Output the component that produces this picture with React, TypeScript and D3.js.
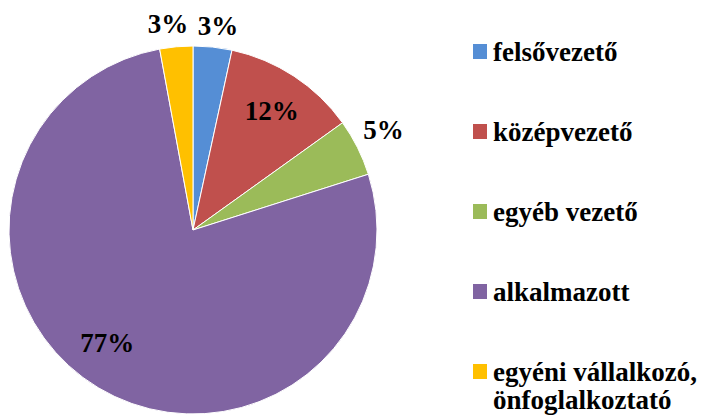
import React from "react";
import * as d3 from "d3";

const categories = ["felsővezető", "középvezető", "egyéb vezető", "alkalmazott", "egyéni vállalkozó, önfoglalkoztató"];
const values = [3.4, 11.7, 5.0, 77.0, 2.9];
const labels = ["3%", "12%", "5%", "77%", "3%"];
const colors = ["#558ED5", "#C0504D", "#9BBB59", "#8064A2", "#FFC000"];
const legendLines = [["felsővezető"], ["középvezető"], ["egyéb vezető"], ["alkalmazott"], ["egyéni vállalkozó,", "önfoglalkoztató"]];

const W = 707, H = 415;
const cx = 193, cy = 230, R = 184;
const labelRadius = [1.12, 0.78, 1.17, 0.77, 1.13];
const labelAngleShift = [0.015, 0, -0.02, 0.11, -0.03];
const font = "'Liberation Serif', 'Times New Roman', serif";

export default function App() {
  const pie = d3.pie<number>().sort(null).value((d) => d);
  const arcs = pie(values);
  const arc = d3.arc<d3.PieArcDatum<number>>().innerRadius(0).outerRadius(R);
  const legendY = d3.scalePoint<number>().domain(d3.range(categories.length)).range([51.5, 371.5]);

  return (
    <svg width={W} height={H} style={{ position: "absolute", left: 0, top: 0, background: "#fff" }}>
      <g transform={`translate(${cx},${cy})`}>
        {arcs.map((a, i) => (
          <path key={i} d={arc(a) || ""} fill={colors[i]} stroke="#fff" strokeWidth={1} />
        ))}
        {arcs.map((a, i) => {
          const mid = (a.startAngle + a.endAngle) / 2 + labelAngleShift[i];
          const r = R * labelRadius[i];
          const x = r * Math.sin(mid);
          const y = -r * Math.cos(mid);
          return (
            <text key={i} x={x} y={y} dy="0.35em" textAnchor="middle" style={{ fontFamily: font }} fontWeight="bold" fontSize={27} fill="#000">
              {labels[i]}
            </text>
          );
        })}
      </g>
      {categories.map((c, i) => {
        const y = legendY(i) as number;
        return (
          <g key={c}>
            <rect x={473} y={y - 7.5} width={14} height={15} fill={colors[i]} />
            {legendLines[i].map((line, j) => (
              <text key={j} x={493} y={y + 9 + j * 28.5} style={{ fontFamily: font }} fontWeight="bold" fontSize={27} fill="#000">
                {line}
              </text>
            ))}
          </g>
        );
      })}
    </svg>
  );
}
